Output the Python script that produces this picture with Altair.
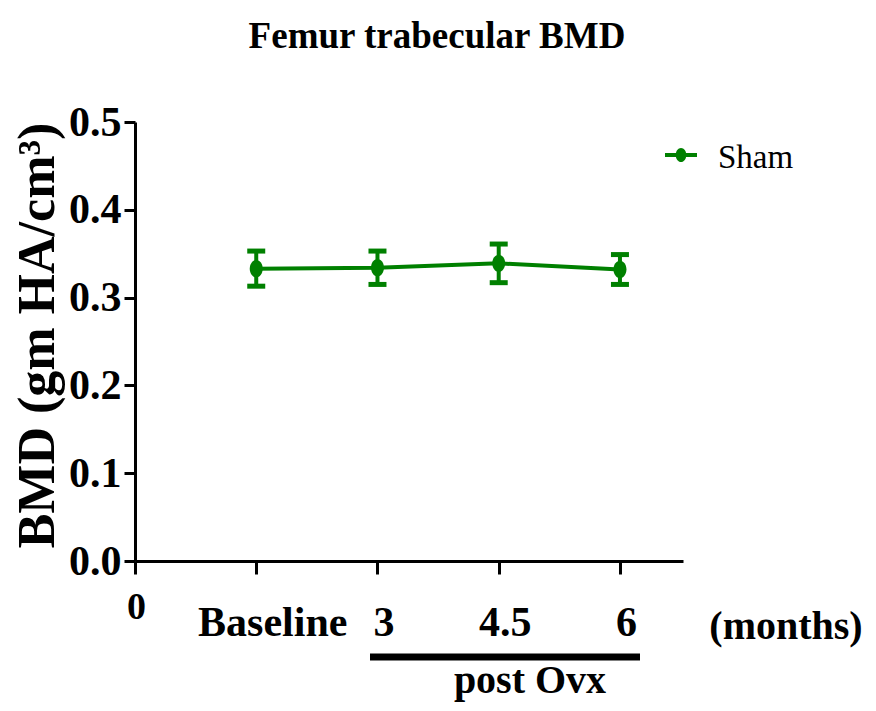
import altair as alt
import pandas as pd

# ---------------- data ----------------
title_text = "Femur trabecular BMD"
series_name = "Sham"
series_color = "#008000"

tick_values = [0, 1, 2, 3, 4]
tick_labels = ["0", "Baseline", "3", "4.5", "6"]

time_points = ["Baseline", "3", "4.5", "6"]
time_pos = [1, 2, 3, 4]
bmd_mean = [0.333, 0.334, 0.339, 0.332]
bmd_sem = [0.020, 0.019, 0.022, 0.017]

y_ticks = [0.0, 0.1, 0.2, 0.3, 0.4, 0.5]
y_title = "BMD (gm HA/cm\u00b3)"
x_unit_label = "(months)"
period_label = "post Ovx"

FONT = "Liberation Serif"

df = pd.DataFrame({
    "pos": time_pos,
    "time": time_points,
    "mean": bmd_mean,
    "sem": bmd_sem,
    "group": [series_name] * len(time_pos),
})
df["lo"] = df["mean"] - df["sem"]
df["hi"] = df["mean"] + df["sem"]

label_expr = "".join(
    f"datum.value == {v} ? '{l}' : " for v, l in zip(tick_values, tick_labels)
) + "''"

x_axis = alt.Axis(
    values=tick_values,
    labelExpr=label_expr,
    title=None,
    grid=False,
    domainColor="black",
    domainWidth=3,
    tickColor="black",
    tickWidth=3,
    tickSize=13,
    labelFont=FONT,
    labelFontWeight="bold",
    labelColor="black",
    labelBaseline="alphabetic",
    labelFontSize={"condition": {"test": "datum.value == 0", "value": 38}, "value": 42},
    labelPadding={"condition": {"test": "datum.value == 0", "value": 44}, "value": 61},
    labelOffset={"condition": [{"test": "datum.value == 1", "value": 16},
                               {"test": "datum.value == 0", "value": 1}], "value": 6},
    labelFlush=False,
    labelOverlap=False,
)

y_axis = alt.Axis(
    values=y_ticks,
    format=".1f",
    grid=False,
    domainColor="black",
    domainWidth=3,
    tickColor="black",
    tickWidth=3,
    tickSize=11,
    labelFont=FONT,
    labelFontWeight="bold",
    labelFontSize=42,
    labelColor="black",
    labelPadding=3,
    titleFont=FONT,
    titleFontWeight="bold",
    titleFontSize=52,
    titleColor="black",
    titleAngle=270,
    titleAlign="center",
    titleBaseline="alphabetic",
    titleX=-82,
    titleY=213,
)

xs = alt.Scale(domain=[0, 4.52], nice=False, zero=False)
ys = alt.Scale(domain=[0, 0.5], nice=False)

base = alt.Chart(df)

line = base.mark_line(color=series_color, strokeWidth=4).encode(
    x=alt.X("pos:Q", scale=xs, axis=x_axis),
    y=alt.Y("mean:Q", scale=ys, axis=y_axis, title=y_title),
)

err_rule = base.mark_rule(color=series_color, strokeWidth=4).encode(
    x=alt.X("pos:Q", scale=xs),
    y=alt.Y("lo:Q", scale=ys, title=y_title),
    y2="hi:Q",
)
cap_lo = base.mark_tick(color=series_color, orient="horizontal", size=18, thickness=5, opacity=1).encode(
    x=alt.X("pos:Q", scale=xs),
    y=alt.Y("lo:Q", scale=ys, title=y_title),
)
cap_hi = base.mark_tick(color=series_color, orient="horizontal", size=18, thickness=5, opacity=1).encode(
    x=alt.X("pos:Q", scale=xs),
    y=alt.Y("hi:Q", scale=ys, title=y_title),
)

ellipse = "M -0.75 0 A 0.75 1 0 1 0 0.75 0 A 0.75 1 0 1 0 -0.75 0 Z"
points = base.mark_point(filled=True, shape=ellipse, size=300, color=series_color, opacity=1).encode(
    x=alt.X("pos:Q", scale=xs),
    y=alt.Y("mean:Q", scale=ys, title=y_title),
)

# legend (manual)
leg_df = pd.DataFrame({"group": [series_name]})
leg_line = alt.Chart(leg_df).mark_rule(color=series_color, strokeWidth=4).encode(
    x=alt.value(530), x2=alt.value(562), y=alt.value(33)
)
leg_pt = alt.Chart(leg_df).mark_point(filled=True, shape=ellipse, size=200, color=series_color, opacity=1).encode(
    x=alt.value(546), y=alt.value(33)
)
leg_text = alt.Chart(leg_df).mark_text(
    font=FONT, fontSize=33, color="black", align="left", baseline="alphabetic"
).encode(x=alt.value(583), y=alt.value(46), text="group:N")

# title
title_mark = alt.Chart(pd.DataFrame({"t": [title_text]})).mark_text(
    font=FONT, fontSize=37, fontWeight="bold", color="black", align="center", baseline="alphabetic"
).encode(x=alt.value(302), y=alt.value(-74), text="t:N")

# annotations under the axis
months_text = alt.Chart(pd.DataFrame({"t": [x_unit_label]})).mark_text(
    font=FONT, fontSize=40, fontWeight="bold", color="black", align="center", baseline="alphabetic"
).encode(x=alt.value(651), y=alt.value(517), text="t:N")

period_bar = alt.Chart(pd.DataFrame({"t": [period_label]})).mark_rule(
    color="black", strokeWidth=7
).encode(x=alt.value(235), x2=alt.value(505), y=alt.value(535))

period_text = alt.Chart(pd.DataFrame({"t": [period_label]})).mark_text(
    font=FONT, fontSize=40, fontWeight="bold", color="black", align="center", baseline="alphabetic"
).encode(x=alt.value(395), y=alt.value(571), text="t:N")

chart = alt.layer(
    line, err_rule, cap_lo, cap_hi, points,
    leg_line, leg_pt, leg_text, title_mark, months_text, period_bar, period_text,
).properties(
    width=548,
    height=439,
    autosize=alt.AutoSizeParams(type="none"),
    padding={"left": 127, "top": 114, "right": 185, "bottom": 142},
).configure(background="white").configure_view(stroke=None)

chart.save("out.html", embed_options={"renderer": "svg", "actions": False})
